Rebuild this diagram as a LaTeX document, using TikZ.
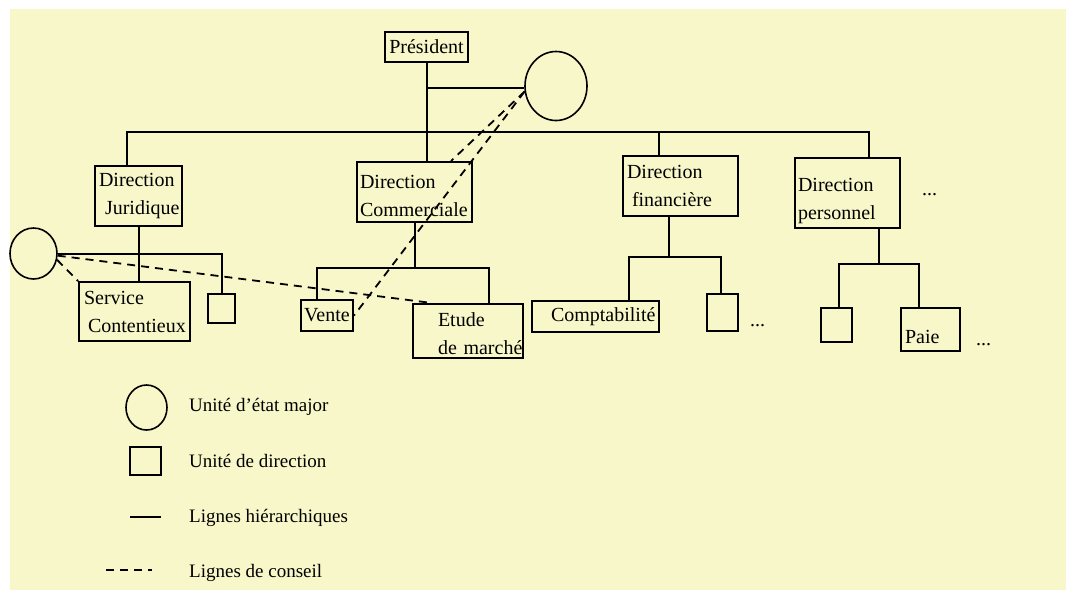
\documentclass[tikz,border=0pt]{standalone}
\usepackage{fontspec}
\setmainfont{Liberation Serif}
\usetikzlibrary{shapes.geometric,calc}
\definecolor{paper}{RGB}{248,247,201}
\newcommand{\orgfs}{\fontsize{20pt}{28pt}\selectfont}
\newcommand{\keyfs}{\fontsize{19pt}{24pt}\selectfont}
\hyphenpenalty=10000
\exhyphenpenalty=10000
\tikzset{
  unit/.style={draw, line width=2pt, rectangle, inner ysep=0pt, font=\orgfs},
  staff/.style={draw, line width=1.6pt, ellipse, inner sep=0pt},
  hier/.style={line width=2pt},
  advice/.style={line width=1.8pt, dash pattern=on 8pt off 6pt},
  keytext/.style={anchor=base west, inner sep=0pt, font=\keyfs},
  dots/.style={anchor=base west, inner sep=0pt, font=\orgfs}
}
\begin{document}
\begin{tikzpicture}[x=1pt,y=-1pt]
  \useasboundingbox (0,0) rectangle (1066,590);
  \fill[paper] (10,9) rectangle (1066,590);

  % top of the hierarchy
  \node[unit, minimum width=83pt, minimum height=30pt, inner xsep=2pt, align=center] (pres) at (426.5,47) {Président};
  \node[staff, minimum width=62pt, minimum height=69pt] (staffTop) at (556,86) {};

  % directions
  \node[unit, minimum width=87pt, minimum height=60pt, inner xsep=4pt, text width=79pt, align=left] (dj) at (138.5,196) {\mbox{Direction}\\\mbox{\hspace*{6pt}Juridique}};
  \node[unit, minimum width=115pt, minimum height=60pt, inner xsep=3pt, text width=109pt, align=left] (dc) at (414.5,192) {\rule{0pt}{22pt}\mbox{Direction}\\\mbox{Commerciale}};
  \node[unit, minimum width=115pt, minimum height=60pt, inner xsep=4pt, text width=107pt, align=left] (df) at (680.5,186) {\mbox{Direction}\\\mbox{\hspace*{5pt}financière}};
  \node[unit, minimum width=105pt, minimum height=70pt, inner xsep=3pt, text width=99pt, align=left] (dp) at (847.5,193) {\rule{0pt}{30pt}\mbox{Direction}\\\mbox{personnel}};
  \node[dots] (moreDir) at (922,195) {...};

  % services
  \node[staff, minimum width=47pt, minimum height=51pt] (staffLeft) at (33.5,253.5) {};
  \node[unit, minimum width=111pt, minimum height=59pt, inner xsep=5pt, text width=101pt, align=left] (sc) at (134.5,311.5) {\mbox{Service}\\\mbox{\hspace*{4pt}Contentieux}};
  \node[unit, minimum width=27pt, minimum height=29pt] (sq1) at (221.5,308.5) {};
  \node[unit, minimum width=52pt, minimum height=31pt, inner xsep=1pt, align=center] (vente) at (327,315.5) {Vente};
  \node[unit, minimum width=110pt, minimum height=54pt, inner xsep=25pt, text width=60pt, align=left] (etude) at (468,331) {\rule{0pt}{20pt}\mbox{Etude}\\\mbox{de marché}};
  \node[unit, minimum width=127pt, minimum height=31pt, inner xsep=19pt, text width=89pt, align=left] (compta) at (595.5,316.5) {\mbox{Comptabilité}};
  \node[unit, minimum width=31pt, minimum height=37pt] (sq2) at (722.5,312.5) {};
  \node[dots] (moreFin) at (750,326) {...};
  \node[unit, minimum width=31pt, minimum height=34pt] (sq3) at (836.5,325) {};
  \node[unit, minimum width=59pt, minimum height=43pt, inner xsep=4pt, text width=51pt, text height=27pt, text depth=0pt, align=left] (paie) at (930.5,329.5) {Paie};
  \node[dots] (morePers) at (976,345) {...};

  % hierarchical lines
  \coordinate (busL) at (127,132);
  \coordinate (busR) at (869,132);
  \coordinate (busF) at (659,132);
  \draw[hier] (pres.south) -- (pres.south |- dc.north);
  \draw[hier] (pres.south |- 0,88) -- (staffTop.west |- 0,88);
  \draw[hier] (busL |- dj.north) -- (busL) -- (busR) -- (busR |- dp.north);
  \draw[hier] (busF) -- (busF |- df.north);

  \draw[hier] (dj.south) -- (dj.south |- sc.north);
  \draw[hier] (staffLeft.east) -- (sq1.north |- staffLeft.east) -- (sq1.north);

  \coordinate (dcL) at (317,268);
  \coordinate (dcR) at (489,268);
  \draw[hier] (dc.south) -- (dc.south |- dcL);
  \draw[hier] (dcL |- vente.north) -- (dcL) -- (dcR) -- (dcR |- etude.north);

  \coordinate (dfL) at (629,257);
  \coordinate (dfR) at (721,257);
  \draw[hier] (dfL -| 669,0) -- (669,0 |- df.south);
  \draw[hier] (dfL |- compta.north) -- (dfL) -- (dfR) -- (dfR |- sq2.north);

  \coordinate (dpL) at (839,264);
  \coordinate (dpR) at (919,264);
  \draw[hier] (dpL -| 879,0) -- (879,0 |- dp.south);
  \draw[hier] (dpL |- sq3.north) -- (dpL) -- (dpR) -- (dpR |- paie.north);

  % advisory lines
  \draw[advice] (staffTop.190) -- ($(dc.north west)+(95,0)$);
  \draw[advice] (staffTop.190) -- (vente.east);
  \draw[advice] (staffLeft.-5) -- ($(etude.north west)+(20,0)$);
  \draw[advice] (staffLeft.-15) -- (sc.north west);

  % key
  \node[staff, minimum width=41pt, minimum height=45pt] (keyStaff) at (146.5,407.5) {};
  \node[keytext] (keyStaffText) at (189,411) {Unité d'état major};
  \node[unit, minimum width=31pt, minimum height=28pt] (keyUnit) at (145.5,461) {};
  \node[keytext] (keyUnitText) at (189,467) {Unité de direction};
  \coordinate (keyHierA) at (130,517);
  \coordinate (keyHierB) at (161,517);
  \draw[hier] (keyHierA) -- (keyHierB);
  \node[keytext] (keyHierText) at (189,522) {Lignes hiérarchiques};
  \coordinate (keyAdvA) at (106,570);
  \coordinate (keyAdvB) at (152,570);
  \draw[advice] (keyAdvA) -- (keyAdvB);
  \node[keytext] (keyAdvText) at (189,577) {Lignes de conseil};
\end{tikzpicture}
\end{document}
